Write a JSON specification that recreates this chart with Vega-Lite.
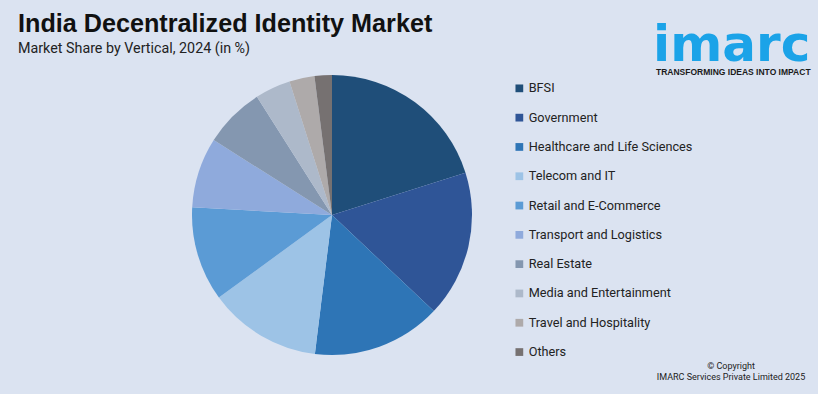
{
  "$schema": "https://vega.github.io/schema/vega-lite/v6.json",
  "width": 818,
  "height": 394,
  "autosize": "none",
  "padding": 0,
  "background": "#dbe3f1",
  "config": {"view": {"stroke": null}},
  "layer": [
    {
      "data": {"values": [
        {"vertical": "BFSI", "share": 20.1, "order": 1},
        {"vertical": "Government", "share": 16.9, "order": 2},
        {"vertical": "Healthcare and Life Sciences", "share": 14.9, "order": 3},
        {"vertical": "Telecom and IT", "share": 13.0, "order": 4},
        {"vertical": "Retail and E-Commerce", "share": 10.9, "order": 5},
        {"vertical": "Transport and Logistics", "share": 8.1, "order": 6},
        {"vertical": "Real Estate", "share": 7.0, "order": 7},
        {"vertical": "Media and Entertainment", "share": 4.1, "order": 8},
        {"vertical": "Travel and Hospitality", "share": 2.9, "order": 9},
        {"vertical": "Others", "share": 2.0, "order": 10}
      ]},
      "mark": {"type": "arc", "outerRadius": 140},
      "encoding": {
        "x": {"value": 332},
        "y": {"value": 215},
        "theta": {"field": "share", "type": "quantitative", "stack": true},
        "order": {"field": "order", "type": "quantitative"},
        "color": {
          "field": "vertical",
          "type": "nominal",
          "sort": ["BFSI", "Government", "Healthcare and Life Sciences", "Telecom and IT", "Retail and E-Commerce", "Transport and Logistics", "Real Estate", "Media and Entertainment", "Travel and Hospitality", "Others"],
          "scale": {
            "domain": ["BFSI", "Government", "Healthcare and Life Sciences", "Telecom and IT", "Retail and E-Commerce", "Transport and Logistics", "Real Estate", "Media and Entertainment", "Travel and Hospitality", "Others"],
            "range": ["#1f4e79", "#2f5597", "#2e75b6", "#9dc3e6", "#5b9bd5", "#8faadc", "#8497b0", "#adb9ca", "#aeaaaa", "#767171"]
          },
          "legend": {
            "title": null,
            "orient": "none",
            "legendX": 513,
            "legendY": 82,
            "symbolType": "square",
            "symbolSize": 60,
            "symbolStrokeWidth": 0,
            "labelFont": "Roboto",
            "labelFontSize": 12.7,
            "labelColor": "#222222",
            "labelOffset": 3,
            "labelLimit": 300,
            "rowPadding": 15.3
          }
        }
      }
    },
    {
      "data": {"values": [{"t": "India Decentralized Identity Market"}]},
      "mark": {"type": "text", "align": "left", "baseline": "alphabetic", "font": "Liberation Sans", "fontWeight": "bold", "fontSize": 25.2, "color": "#111111"},
      "encoding": {"x": {"value": 18}, "y": {"value": 32}, "text": {"field": "t"}}
    },
    {
      "data": {"values": [{"t": "Market Share by Vertical, 2024 (in %)"}]},
      "mark": {"type": "text", "align": "left", "baseline": "alphabetic", "font": "Roboto", "fontSize": 14.3, "color": "#222222"},
      "encoding": {"x": {"value": 18}, "y": {"value": 53}, "text": {"field": "t"}}
    },
    {
      "data": {"values": [{"t": "imarc"}]},
      "mark": {"type": "text", "align": "left", "baseline": "alphabetic", "font": "DejaVu Sans", "fontWeight": "bold", "fontSize": 50, "color": "#1ba3e8"},
      "encoding": {"x": {"value": 653}, "y": {"value": 61}, "text": {"field": "t"}}
    },
    {
      "data": {"values": [{"t": "TRANSFORMING IDEAS INTO IMPACT"}]},
      "mark": {"type": "text", "align": "left", "baseline": "alphabetic", "font": "Liberation Sans", "fontWeight": "bold", "fontSize": 8.5, "color": "#1a1a1a"},
      "encoding": {"x": {"value": 656}, "y": {"value": 75}, "text": {"field": "t"}}
    },
    {
      "data": {"values": [{"t": "© Copyright", "yy": 369}, {"t": "IMARC Services Private Limited 2025", "yy": 380}]},
      "mark": {"type": "text", "align": "center", "baseline": "alphabetic", "font": "Roboto", "fontSize": 9, "color": "#222222"},
      "encoding": {"x": {"value": 731}, "y": {"field": "yy", "type": "quantitative", "scale": null}, "text": {"field": "t"}}
    }
  ]
}
